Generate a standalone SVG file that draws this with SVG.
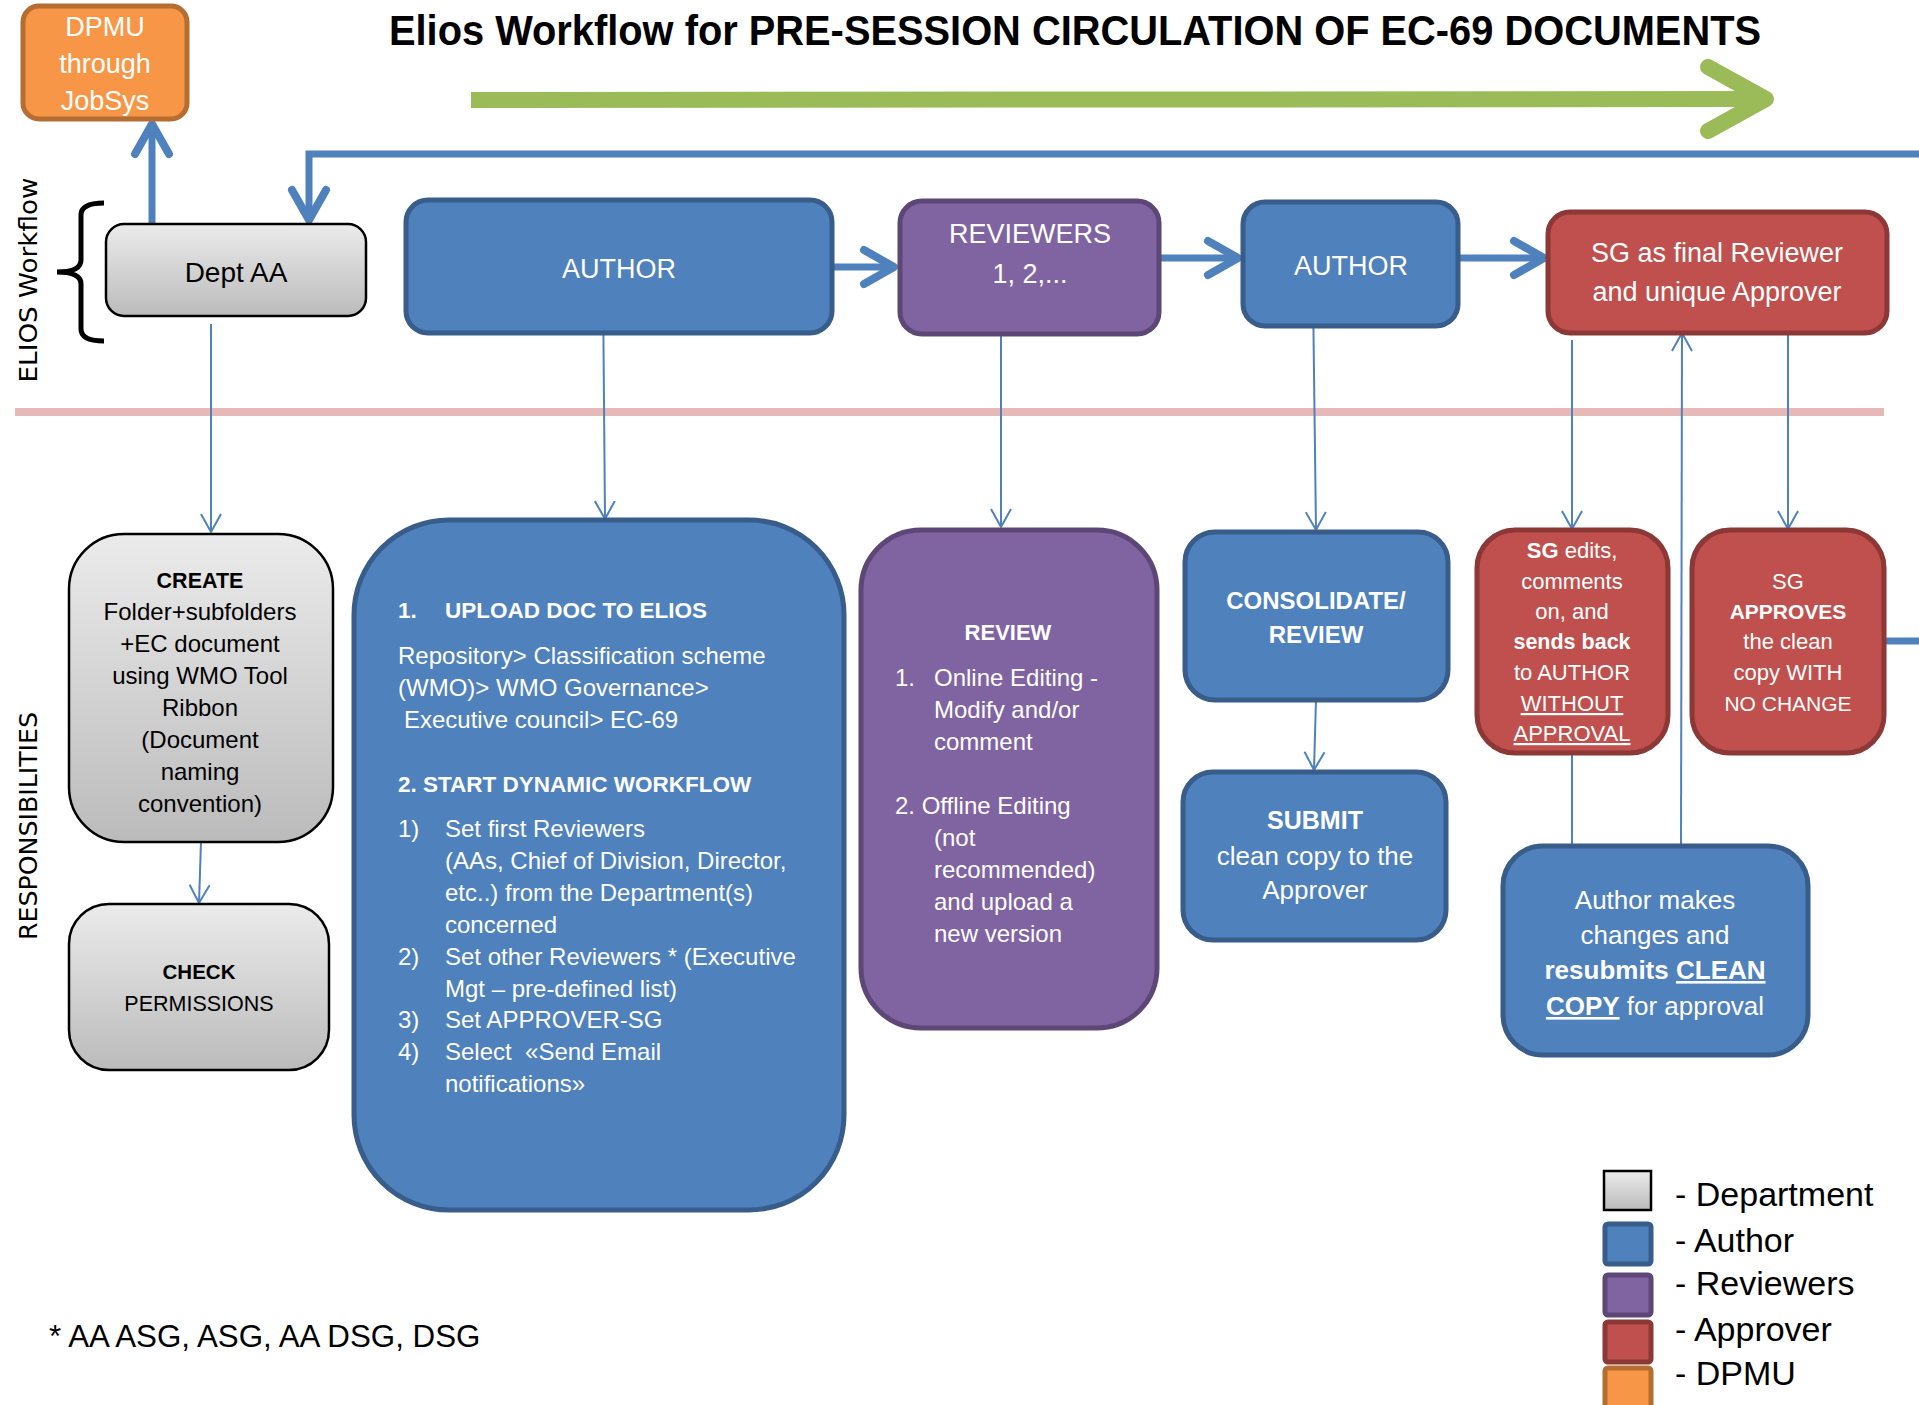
<svg xmlns="http://www.w3.org/2000/svg" width="1919" height="1405" viewBox="0 0 1919 1405">
<defs>
<linearGradient id="gray" x1="0" y1="0" x2="0" y2="1">
<stop offset="0" stop-color="#EBEBEB"/>
<stop offset="1" stop-color="#BBBBBB"/>
</linearGradient>
<marker id="thin" markerUnits="userSpaceOnUse" viewBox="-22 -12 26 24" refX="0" refY="0" markerWidth="26" markerHeight="24" orient="auto" overflow="visible">
<path d="M-18,-10 L0,0 L-18,10" fill="none" stroke="#4F81BD" stroke-width="2"/>
</marker>
<marker id="thick" markerUnits="userSpaceOnUse" viewBox="-40 -25 50 50" refX="0" refY="0" markerWidth="50" markerHeight="50" orient="auto" overflow="visible">
<path d="M-30,-17 L0,0 L-30,17" fill="none" stroke="#4F81BD" stroke-width="8" stroke-linecap="round" stroke-linejoin="round"/>
</marker>
</defs>
<style>
text{font-family:"Liberation Sans",Arial,sans-serif;}
.w{fill:#FFFFFF;}
.k{fill:#000000;}
.b{font-weight:bold;}
.c{text-anchor:middle;}
.blue{fill:#4F81BD;stroke:#385D8A;stroke-width:5;}
.purple{fill:#8064A2;stroke:#5C4776;stroke-width:5;}
.red{fill:#C0504D;stroke:#8C3836;stroke-width:5;}
.orange{fill:#F79646;stroke:#B66D31;stroke-width:5;}
.grayb{fill:url(#gray);stroke:#000000;stroke-width:2.5;}
.tc{fill:none;stroke:#4F81BD;stroke-width:2;}
.tk{fill:none;stroke:#4F81BD;stroke-width:7;}
.side{font-family:"DejaVu Sans",Verdana,sans-serif;font-size:24px;fill:#000;}
</style>
<rect width="1919" height="1405" fill="#FFFFFF"/>

<!-- title -->
<text x="389" y="45" class="k b" font-size="42" textLength="1372" lengthAdjust="spacingAndGlyphs">Elios Workflow for PRE-SESSION CIRCULATION OF EC-69 DOCUMENTS</text>

<!-- green progress arrow -->
<g id="progress-arrow">
<line x1="471" y1="100" x2="1762" y2="99" stroke="#9BBB59" stroke-width="16"/>
<path d="M1708,67 L1766,99 L1708,131" fill="none" stroke="#9BBB59" stroke-width="16" stroke-linecap="round" stroke-linejoin="round"/>
</g>

<!-- lane separators / labels -->
<line x1="15" y1="412" x2="1884" y2="412" stroke="#E6B9B8" stroke-width="8"/>
<path d="M104,203 Q81,203 81,215 L81,260 Q81,272 57,272 Q81,272 81,284 L81,329 Q81,341 104,341" fill="none" stroke="#000000" stroke-width="5"/>
<text class="side" transform="translate(37,280) rotate(-90)" text-anchor="middle" textLength="205" lengthAdjust="spacingAndGlyphs">ELIOS Workflow</text>
<text class="side" transform="translate(37,826) rotate(-90)" text-anchor="middle" textLength="228" lengthAdjust="spacingAndGlyphs">RESPONSIBILITIES</text>

<!-- connectors -->
<g id="connectors">
<line class="tk" x1="152" y1="224" x2="152" y2="124" marker-end="url(#thick)"/>
<polyline class="tk" points="1919,154 309,154 309,220" marker-end="url(#thick)"/>
<line class="tk" x1="832" y1="267" x2="894" y2="267" marker-end="url(#thick)"/>
<line class="tk" x1="1159" y1="258" x2="1238" y2="258" marker-end="url(#thick)"/>
<line class="tk" x1="1458" y1="258" x2="1544" y2="258" marker-end="url(#thick)"/>
<line class="tk" x1="1884" y1="641" x2="1919" y2="641"/>
<line class="tc" x1="211" y1="324" x2="211" y2="532" marker-end="url(#thin)"/>
<line class="tc" x1="603" y1="285" x2="605" y2="519" marker-end="url(#thin)"/>
<line class="tc" x1="1001" y1="307" x2="1001" y2="527" marker-end="url(#thin)"/>
<line class="tc" x1="1313" y1="293" x2="1316" y2="530" marker-end="url(#thin)"/>
<line class="tc" x1="1316" y1="700" x2="1314" y2="770" marker-end="url(#thin)"/>
<line class="tc" x1="201" y1="842" x2="199" y2="903" marker-end="url(#thin)"/>
<line class="tc" x1="1572" y1="340" x2="1572" y2="529" marker-end="url(#thin)"/>
<line class="tc" x1="1788" y1="333" x2="1788" y2="529" marker-end="url(#thin)"/>
<line class="tc" x1="1681" y1="845" x2="1682" y2="333" marker-end="url(#thin)"/>
<line class="tc" x1="1572" y1="753" x2="1572" y2="846"/>
</g>

<!-- top row nodes -->
<g id="dpmu">
<rect class="orange" x="23" y="6" width="164" height="113" rx="16"/>
<text class="w c" x="105" y="36" font-size="27">DPMU</text>
<text class="w c" x="105" y="73" font-size="27">through</text>
<text class="w c" x="105" y="110" font-size="27">JobSys</text>
</g>
<g id="dept-aa">
<rect class="grayb" x="106" y="224" width="260" height="92" rx="18"/>
<text class="k c" x="236" y="282" font-size="28">Dept AA</text>
</g>
<g id="author-1">
<rect class="blue" x="406" y="200" width="426" height="133" rx="22"/>
<text class="w c" x="619" y="278" font-size="27">AUTHOR</text>
</g>
<g id="reviewers">
<rect class="purple" x="900" y="201" width="259" height="133" rx="22"/>
<text class="w c" x="1030" y="243" font-size="27">REVIEWERS</text>
<text class="w c" x="1030" y="283" font-size="27">1, 2,...</text>
</g>
<g id="author-2">
<rect class="blue" x="1243" y="202" width="215" height="124" rx="22"/>
<text class="w c" x="1351" y="275" font-size="27">AUTHOR</text>
</g>
<g id="sg-final">
<rect class="red" x="1548" y="212" width="339" height="121" rx="22"/>
<text class="w c" x="1717" y="262" font-size="27">SG as final Reviewer</text>
<text class="w c" x="1717" y="301" font-size="27">and unique Approver</text>
</g>

<!-- responsibilities -->
<g id="create">
<rect class="grayb" x="69" y="534" width="264" height="308" rx="55"/>
<text class="k c b" x="200" y="588" font-size="21.5">CREATE</text>
<text class="k c" x="200" y="620" font-size="24">Folder+subfolders</text>
<text class="k c" x="200" y="652" font-size="24">+EC document</text>
<text class="k c" x="200" y="684" font-size="24">using WMO Tool</text>
<text class="k c" x="200" y="716" font-size="24">Ribbon</text>
<text class="k c" x="200" y="748" font-size="24">(Document</text>
<text class="k c" x="200" y="780" font-size="24">naming</text>
<text class="k c" x="200" y="812" font-size="24">convention)</text>
</g>
<g id="check">
<rect class="grayb" x="69" y="904" width="260" height="166" rx="40"/>
<text class="k c b" x="199" y="979" font-size="20.5">CHECK</text>
<text class="k c" x="199" y="1011" font-size="21.5">PERMISSIONS</text>
</g>
<g id="upload">
<rect class="blue" x="354" y="520" width="490" height="690" rx="95"/>
<text class="w b" x="398" y="618" font-size="22.5">1.</text>
<text class="w b" x="445" y="618" font-size="22.5">UPLOAD DOC TO ELIOS</text>
<text class="w" x="398" y="664" font-size="24">Repository&gt; Classification scheme</text>
<text class="w" x="398" y="696" font-size="24">(WMO)&gt; WMO Governance&gt;</text>
<text class="w" x="404" y="728" font-size="24">Executive council&gt; EC-69</text>
<text class="w b" x="398" y="792" font-size="22.5">2. START DYNAMIC WORKFLOW</text>
<text class="w" x="398" y="837" font-size="24">1)</text>
<text class="w" x="445" y="837" font-size="24">Set first Reviewers</text>
<text class="w" x="445" y="869" font-size="24">(AAs, Chief of Division, Director,</text>
<text class="w" x="445" y="901" font-size="24">etc..) from the Department(s)</text>
<text class="w" x="445" y="933" font-size="24">concerned</text>
<text class="w" x="398" y="965" font-size="24">2)</text>
<text class="w" x="445" y="965" font-size="24">Set other Reviewers * (Executive</text>
<text class="w" x="445" y="997" font-size="24">Mgt – pre-defined list)</text>
<text class="w" x="398" y="1028" font-size="24">3)</text>
<text class="w" x="445" y="1028" font-size="24">Set APPROVER-SG</text>
<text class="w" x="398" y="1060" font-size="24">4)</text>
<text class="w" x="445" y="1060" font-size="24" xml:space="preserve">Select  «Send Email</text>
<text class="w" x="445" y="1092" font-size="24">notifications»</text>
</g>
<g id="review">
<rect class="purple" x="861" y="530" width="296" height="498" rx="60"/>
<text class="w c b" x="1008" y="640" font-size="22">REVIEW</text>
<text class="w" x="895" y="686" font-size="24">1.</text>
<text class="w" x="934" y="686" font-size="24">Online Editing -</text>
<text class="w" x="934" y="718" font-size="24">Modify and/or</text>
<text class="w" x="934" y="750" font-size="24">comment</text>
<text class="w" x="895" y="814" font-size="24">2. Offline Editing</text>
<text class="w" x="934" y="846" font-size="24">(not</text>
<text class="w" x="934" y="878" font-size="24">recommended)</text>
<text class="w" x="934" y="910" font-size="24">and upload a</text>
<text class="w" x="934" y="942" font-size="24">new version</text>
</g>
<g id="consolidate">
<rect class="blue" x="1185" y="532" width="263" height="168" rx="30"/>
<text class="w c b" x="1316" y="609" font-size="24">CONSOLIDATE/</text>
<text class="w c b" x="1316" y="643" font-size="24">REVIEW</text>
</g>
<g id="submit">
<rect class="blue" x="1183" y="772" width="263" height="168" rx="30"/>
<text class="w c b" x="1315" y="829" font-size="25">SUBMIT</text>
<text class="w c" x="1315" y="865" font-size="26">clean copy to the</text>
<text class="w c" x="1315" y="899" font-size="26">Approver</text>
</g>
<g id="sg-edits">
<rect class="red" x="1477" y="530" width="191" height="223" rx="38"/>
<text class="w c" x="1572" y="558" font-size="22"><tspan class="b">SG</tspan> edits,</text>
<text class="w c" x="1572" y="589" font-size="22">comments</text>
<text class="w c" x="1572" y="619" font-size="22">on, and</text>
<text class="w c b" x="1572" y="649" font-size="21.5">sends back</text>
<text class="w c" x="1572" y="680" font-size="22">to AUTHOR</text>
<text class="w c" x="1572" y="711" font-size="22" text-decoration="underline">WITHOUT</text>
<text class="w c" x="1572" y="741" font-size="22" text-decoration="underline">APPROVAL</text>
</g>
<g id="sg-approves">
<rect class="red" x="1692" y="530" width="192" height="223" rx="38"/>
<text class="w c" x="1788" y="589" font-size="22">SG</text>
<text class="w c b" x="1788" y="619" font-size="21">APPROVES</text>
<text class="w c" x="1788" y="649" font-size="22">the clean</text>
<text class="w c" x="1788" y="680" font-size="22">copy WITH</text>
<text class="w c" x="1788" y="711" font-size="21">NO CHANGE</text>
</g>
<g id="author-resubmits">
<rect class="blue" x="1503" y="846" width="305" height="209" rx="40"/>
<text class="w c" x="1655" y="909" font-size="26">Author makes</text>
<text class="w c" x="1655" y="944" font-size="26">changes and</text>
<text class="w c" x="1655" y="979" font-size="26"><tspan class="b">resubmits </tspan><tspan class="b" text-decoration="underline">CLEAN</tspan></text>
<text class="w c" x="1655" y="1015" font-size="26"><tspan class="b" text-decoration="underline">COPY</tspan> for approval</text>
</g>

<!-- footnote -->
<text class="k" x="49" y="1347" font-size="31.3">* AA ASG, ASG, AA DSG, DSG</text>

<!-- legend -->
<g id="legend">
<rect x="1604" y="1171" width="47" height="39" fill="url(#gray)" stroke="#000" stroke-width="2.5"/>
<rect class="blue" x="1605" y="1224" width="46" height="40" rx="3"/>
<rect class="purple" x="1605" y="1275" width="46" height="40" rx="3"/>
<rect class="red" x="1605" y="1322" width="46" height="40" rx="3"/>
<rect class="orange" x="1605" y="1368" width="46" height="40" rx="3"/>
<text class="k" x="1675" y="1206" font-size="34">- Department</text>
<text class="k" x="1675" y="1252" font-size="34">- Author</text>
<text class="k" x="1675" y="1295" font-size="34">- Reviewers</text>
<text class="k" x="1675" y="1341" font-size="34">- Approver</text>
<text class="k" x="1675" y="1385" font-size="34">- DPMU</text>
</g>
</svg>
